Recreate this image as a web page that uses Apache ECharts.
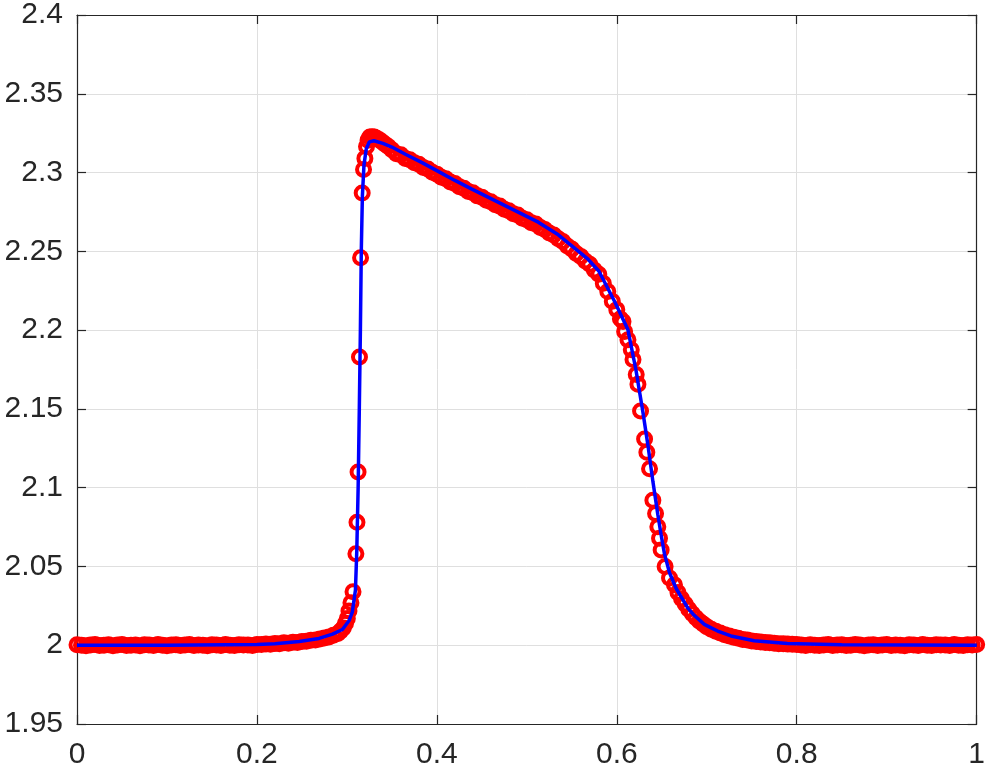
<!DOCTYPE html>
<html>
<head>
<meta charset="utf-8">
<script src="https://cdn.jsdelivr.net/npm/echarts@6/dist/echarts.min.js"></script>
<style>
html,body{margin:0;padding:0;background:#fff;}
#chart{width:988px;height:770px;}
</style>
</head>
<body>
<div id="chart"></div>
<script>
// Reference solution (blue line)
var refX = [0, 0.1, 0.2, 0.22, 0.247, 0.269, 0.284, 0.295, 0.3023, 0.306, 0.3095, 0.311, 0.3125, 0.3138, 0.315, 0.316, 0.3172, 0.319, 0.3215, 0.325, 0.33, 0.34, 0.35, 0.365, 0.3835, 0.402, 0.42, 0.4389, 0.4758, 0.5127, 0.535, 0.55, 0.568, 0.58, 0.5977, 0.6124, 0.6212, 0.629, 0.6346, 0.6401, 0.6456, 0.6493, 0.653, 0.6586, 0.666, 0.6788, 0.686, 0.6973, 0.705, 0.7121, 0.7269, 0.7527, 0.7896, 0.85, 1.0];
var refY = [2.0, 2.0, 2.0005, 2.001, 2.0024, 2.0043, 2.007, 2.010, 2.0155, 2.021, 2.035, 2.06, 2.10, 2.15, 2.20, 2.25, 2.285, 2.305, 2.315, 2.3195, 2.3202, 2.3185, 2.3162, 2.3116, 2.3063, 2.3006, 2.295, 2.2895, 2.279, 2.2685, 2.2605, 2.2535, 2.245, 2.2375, 2.218, 2.2002, 2.175, 2.148, 2.127, 2.104, 2.083, 2.07, 2.058, 2.046, 2.036, 2.0237, 2.019, 2.0132, 2.011, 2.009, 2.0059, 2.0028, 2.0011, 2.0003, 2.0];

// Numerical solution (red circles)
var numX = [
 0, 0.005, 0.01, 0.015, 0.02, 0.025, 0.03, 0.035, 0.04, 0.045,
 0.05, 0.055, 0.06, 0.065, 0.07, 0.075, 0.08, 0.085, 0.09, 0.095,
 0.1, 0.105, 0.11, 0.115, 0.12, 0.125, 0.13, 0.135, 0.14, 0.145,
 0.15, 0.155, 0.16, 0.165, 0.17, 0.175, 0.18, 0.185, 0.19, 0.195, 0.2,
 0.205, 0.21, 0.215, 0.22, 0.225, 0.23, 0.235, 0.24, 0.245, 0.25,
 0.255, 0.26, 0.265, 0.27, 0.275, 0.28, 0.285, 0.29, 0.293,
 0.296, 0.2985, 0.3005, 0.3023, 0.3045, 0.3068, 0.31, 0.3112, 0.3124, 0.314,
 0.3152, 0.317, 0.3185, 0.32, 0.3218, 0.3235, 0.3255, 0.328, 0.3305, 0.333,
 0.336, 0.339, 0.3425, 0.346,
 0.35, 0.355, 0.36, 0.365, 0.37, 0.375, 0.38, 0.385, 0.39, 0.395,
 0.4, 0.405, 0.41, 0.415, 0.42, 0.425, 0.43, 0.435, 0.44, 0.445,
 0.45, 0.455, 0.46, 0.465, 0.47, 0.475, 0.48, 0.485, 0.49, 0.495,
 0.5, 0.505, 0.51, 0.515, 0.52, 0.525, 0.53, 0.535, 0.54, 0.545,
 0.55, 0.555, 0.56, 0.565, 0.57, 0.575, 0.58, 0.585, 0.59, 0.595,
 0.6, 0.604,
 0.6069, 0.6087, 0.6124, 0.6161, 0.618, 0.6216, 0.6235, 0.6264, 0.6309, 0.6334,
 0.6364, 0.6401, 0.6431, 0.6456, 0.6475, 0.6493, 0.6537, 0.6586, 0.6641,
 0.668, 0.672, 0.676, 0.68, 0.684, 0.688, 0.692, 0.696, 0.7, 0.705,
 0.71, 0.715, 0.72, 0.725, 0.73, 0.735, 0.74, 0.745, 0.75, 0.755,
 0.76, 0.765, 0.77, 0.775, 0.78, 0.785, 0.79, 0.795, 0.8,
 0.805, 0.81, 0.815, 0.82, 0.825, 0.83, 0.835, 0.84, 0.845, 0.85,
 0.855, 0.86, 0.865, 0.87, 0.875, 0.88, 0.885, 0.89, 0.895, 0.9,
 0.905, 0.91, 0.915, 0.92, 0.925, 0.93, 0.935, 0.94, 0.945, 0.95,
 0.955, 0.96, 0.965, 0.97, 0.975, 0.98, 0.985, 0.99, 0.995, 1.0
];
var numY = [
 2.0003, 2.0, 1.9997, 2.0002, 2.0004, 1.9998, 2.0, 2.0003, 1.9996, 2.0001,
 2.0004, 1.9999, 2.0, 2.0002, 1.9997, 2.0003, 2.0001, 1.9998, 2.0004, 2.0,
 1.9997, 2.0002, 2.0003, 1.9999, 2.0001, 2.0004, 1.9998, 2.0002, 2.0, 1.9997,
 2.0003, 2.0001, 1.9999, 2.0004, 2.0, 1.9998, 2.0003, 2.0001, 2.0002, 1.9999, 2.0004,
 2.0004, 2.0008, 2.0006, 2.0011, 2.0009, 2.0015, 2.0013, 2.0019, 2.0017, 2.0024,
 2.0026, 2.0031, 2.0033, 2.004, 2.0046, 2.0052, 2.0063, 2.0075, 2.009,
 2.011, 2.014, 2.017, 2.0217, 2.027, 2.034, 2.058, 2.078, 2.11, 2.183,
 2.246, 2.287, 2.302, 2.309, 2.3165, 2.3205, 2.3225, 2.3228, 2.3225, 2.3218,
 2.3208, 2.3196, 2.318, 2.3165,
 2.3145, 2.312, 2.3113, 2.309, 2.3082, 2.3062, 2.3052, 2.3032, 2.3022, 2.3002,
 2.299, 2.297, 2.296, 2.294, 2.293, 2.291, 2.29, 2.288, 2.2872, 2.2852,
 2.2844, 2.2824, 2.2814, 2.2795, 2.2787, 2.2767, 2.2758, 2.2738, 2.273, 2.271,
 2.2701, 2.2682, 2.2673, 2.2652, 2.2639, 2.2616, 2.2603, 2.258, 2.2562, 2.2534,
 2.2515, 2.2486, 2.2468, 2.2439, 2.2418, 2.2381, 2.2355, 2.2297, 2.2245, 2.2183,
 2.213, 2.2072,
 2.2054, 2.1991, 2.1939, 2.1876, 2.1813, 2.1718, 2.1656, 2.1487, 2.1309, 2.1225,
 2.112, 2.092, 2.0836, 2.0752, 2.0679, 2.0605, 2.05, 2.0427, 2.0384,
 2.0335, 2.0295, 2.0262, 2.0228, 2.02, 2.0175, 2.0152, 2.0134, 2.0118, 2.0102,
 2.0088, 2.0077, 2.0066, 2.0058, 2.005, 2.0044, 2.0037, 2.0033, 2.0027, 2.0024,
 2.002, 2.0017, 2.0015, 2.0012, 2.001, 2.0009, 2.0007, 2.0006, 2.0004,
 2.0002, 1.9999, 2.0003, 2.0, 1.9998, 2.0002, 2.0004, 1.9999, 2.0001, 2.0003,
 1.9998, 2.0, 2.0004, 2.0001, 1.9997, 2.0002, 2.0003, 1.9999, 2.0001, 2.0004,
 1.9998, 2.0002, 2.0, 1.9997, 2.0003, 2.0001, 1.9999, 2.0004, 2.0, 1.9998,
 2.0003, 2.0001, 2.0002, 1.9999, 2.0004, 2.0, 1.9998, 2.0003, 2.0001, 2.0004
];

var xTicks = [0, 0.2, 0.4, 0.6, 0.8, 1];
var yTicks = [1.95, 2, 2.05, 2.1, 2.15, 2.2, 2.25, 2.3, 2.35, 2.4];

var refData = refX.map(function (x, i) { return [x, refY[i]]; });
var numData = numX.map(function (x, i) { return [x, numY[i]]; });

var chart = echarts.init(document.getElementById('chart'), null, {renderer: 'canvas'});
var axisColor = '#262626';
var fontFam = '"Liberation Sans", Arial, Helvetica, sans-serif';
function fmt(v) { return String(+(+v).toFixed(2)); }

chart.setOption({
  animation: false,
  backgroundColor: '#ffffff',
  grid: {left: 77, right: 8, top: 13, bottom: 43, containLabel: false},
  xAxis: [{
    type: 'value', min: xTicks[0], max: xTicks[xTicks.length - 1], interval: 0.2,
    position: 'bottom',
    axisLine: {show: true, onZero: false, lineStyle: {color: axisColor, width: 1.2}},
    axisTick: {show: true, inside: true, length: 9, lineStyle: {color: axisColor, width: 1.2}},
    axisLabel: {color: axisColor, fontSize: 30, fontFamily: fontFam, margin: 16, formatter: fmt},
    splitLine: {show: true, lineStyle: {color: '#dfdfdf', width: 1}}
  }, {
    type: 'value', min: xTicks[0], max: xTicks[xTicks.length - 1], interval: 0.2,
    position: 'top',
    axisLine: {show: true, onZero: false, lineStyle: {color: axisColor, width: 1.2}},
    axisTick: {show: true, inside: true, length: 9, lineStyle: {color: axisColor, width: 1.2}},
    axisLabel: {show: false},
    splitLine: {show: false}
  }],
  yAxis: [{
    type: 'value', min: yTicks[0], max: yTicks[yTicks.length - 1], interval: 0.05,
    position: 'left',
    axisLine: {show: true, onZero: false, lineStyle: {color: axisColor, width: 1.2}},
    axisTick: {show: true, inside: true, length: 9, lineStyle: {color: axisColor, width: 1.2}},
    axisLabel: {color: axisColor, fontSize: 30, fontFamily: fontFam, margin: 14, formatter: fmt},
    splitLine: {show: true, lineStyle: {color: '#dfdfdf', width: 1}}
  }, {
    type: 'value', min: yTicks[0], max: yTicks[yTicks.length - 1], interval: 0.05,
    position: 'right',
    axisLine: {show: true, onZero: false, lineStyle: {color: axisColor, width: 1.2}},
    axisTick: {show: true, inside: true, length: 9, lineStyle: {color: axisColor, width: 1.2}},
    axisLabel: {show: false},
    splitLine: {show: false}
  }],
  series: [{
    type: 'scatter',
    name: 'numerical',
    data: numData,
    clip: false,
    symbol: 'circle',
    symbolSize: 13,
    itemStyle: {color: 'rgba(0,0,0,0)', borderColor: '#ff0000', borderWidth: 4, opacity: 1},
    emphasis: {disabled: true},
    z: 2
  }, {
    type: 'line',
    name: 'reference',
    data: refData,
    showSymbol: false,
    symbol: 'none',
    clip: false,
    lineStyle: {color: '#0000ff', width: 3.5, opacity: 1},
    emphasis: {disabled: true},
    z: 3
  }]
});
</script>
</body>
</html>
